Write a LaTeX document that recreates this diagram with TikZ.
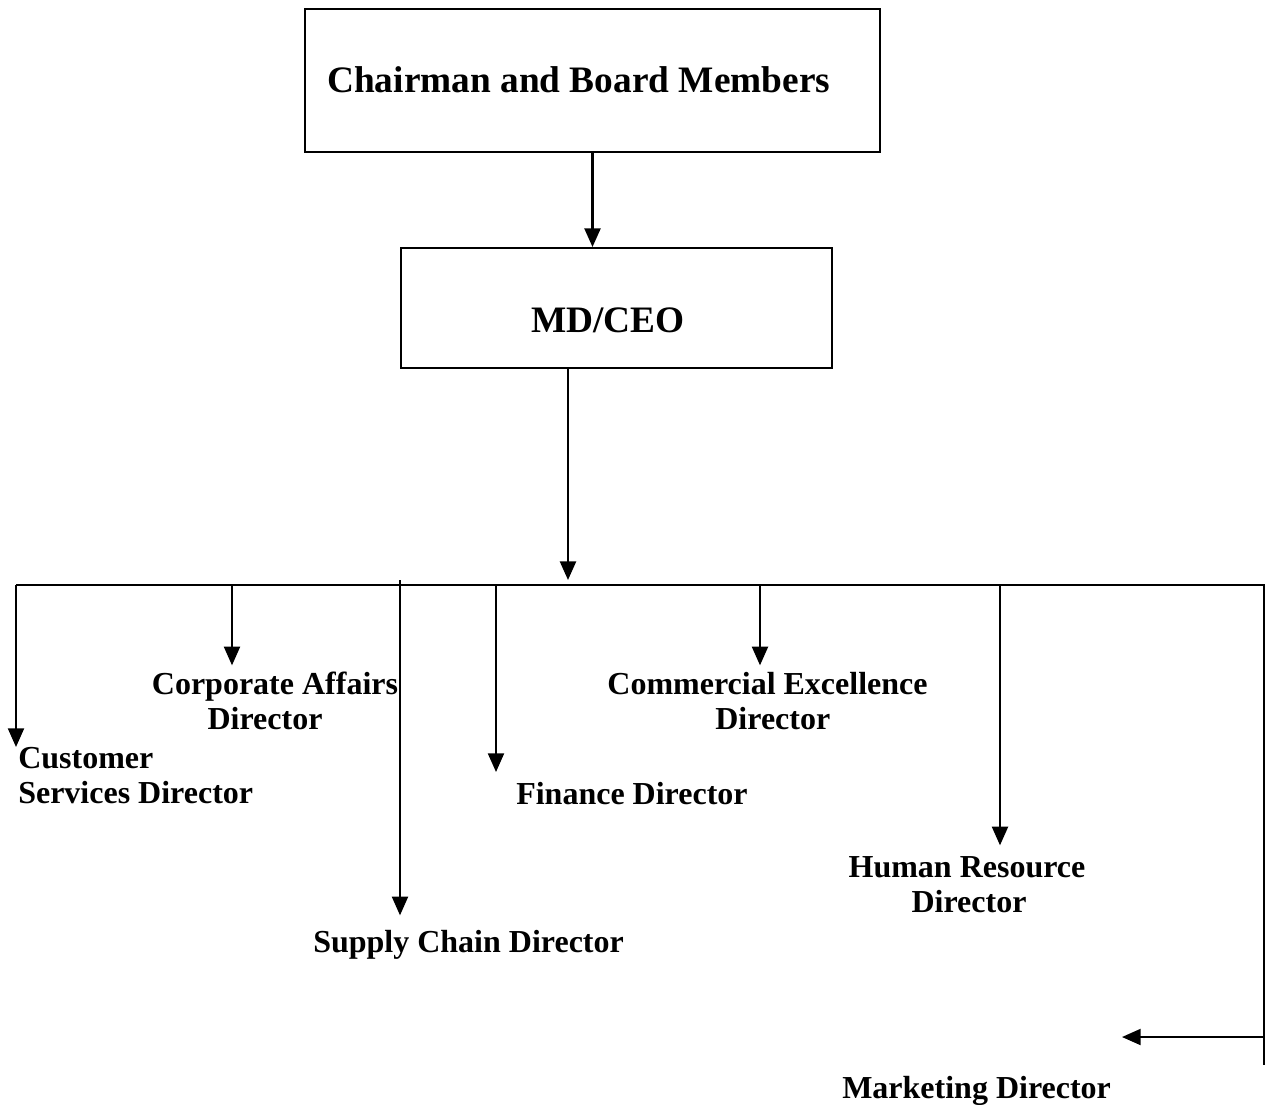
\documentclass[tikz,border=0pt]{standalone}
\usepackage{fontspec}
\setmainfont{Liberation Serif}
\usetikzlibrary{arrows.meta}
\begin{document}
\begin{tikzpicture}[x=0.75pt,y=-0.75pt,
  box/.style={draw,line width=1.5pt,inner sep=0pt},
  conn/.style={line width=1.5pt,-{Triangle[length=14pt,width=12pt]}},
  mainconn/.style={conn,line width=1.8pt},
  busline/.style={line width=1.1pt},
  head/.style={font=\fontsize{28}{33}\selectfont\bfseries,inner sep=0pt},
  role/.style={font=\fontsize{24}{26.25}\selectfont\bfseries,inner sep=0pt,align=center},
]
\useasboundingbox (0,0) rectangle (1267,1104);

% top of the hierarchy
\node[box,minimum width=431.25pt,minimum height=107.25pt] (chair) at (592.5,80.5) {};
\node[head,anchor=base west] (chairtxt) at (327,92) {Chairman and Board Members};

\node[box,minimum width=323.25pt,minimum height=90pt] (md) at (616.5,308) {};
\node[head,anchor=base west] (mdtxt) at (531,332) {MD/CEO};

\draw[mainconn] (chair.south) -- (chair.south |- md.north);

% distribution bus
\coordinate (busL) at (16,585);
\coordinate (busR) at (1264,585);
\coordinate (bus-md) at (568,580);
\coordinate (r-end) at (1264,1065);
\draw[busline] (busL) -- (busR) -- (r-end);
\draw[mainconn] (md.south -| bus-md) -- (bus-md);

% directors
\node[role,anchor=north west,align=left] (cust) at (18,747) {Customer\\Services Director};
\node[role,anchor=north] (corp) at (275,672) {Corporate Affairs\\Director\hspace*{15pt}};
\node[role,anchor=north] (comm) at (767.5,672) {Commercial Excellence\\\hspace*{8pt}Director};
\node[role,anchor=north] (hr) at (967,856) {Human Resource\\\hspace*{3pt}Director};
\node[role,anchor=north west] (fin) at (516,782) {Finance Director};
\node[role,anchor=north west] (sup) at (313,930) {Supply Chain Director};
\node[role,anchor=north west] (mkt) at (842,1076) {Marketing Director};

% branches from the bus
\coordinate (b-cust) at (16,585);
\coordinate (b-corp) at (232,585);
\coordinate (b-sup) at (400,580);
\coordinate (b-fin) at (496,585);
\coordinate (b-comm) at (760,585);
\coordinate (b-hr) at (1000,585);
\coordinate (r-mkt) at (1264,1037);
\coordinate (mkt-tip) at (1122,1037);

\draw[conn] (b-cust) -- (b-cust |- cust.north);
\draw[conn,shorten >=5pt] (b-corp) -- (b-corp |- corp.north);
\draw[conn,shorten >=11pt] (b-sup) -- (b-sup |- sup.north);
\draw[conn,shorten >=7.5pt] (b-fin) -- (b-fin |- fin.north);
\draw[conn,shorten >=5pt] (b-comm) -- (b-comm |- comm.north);
\draw[conn,shorten >=8pt] (b-hr) -- (b-hr |- hr.north);
\draw[conn] (r-mkt) -- (mkt-tip);
\end{tikzpicture}
\end{document}
